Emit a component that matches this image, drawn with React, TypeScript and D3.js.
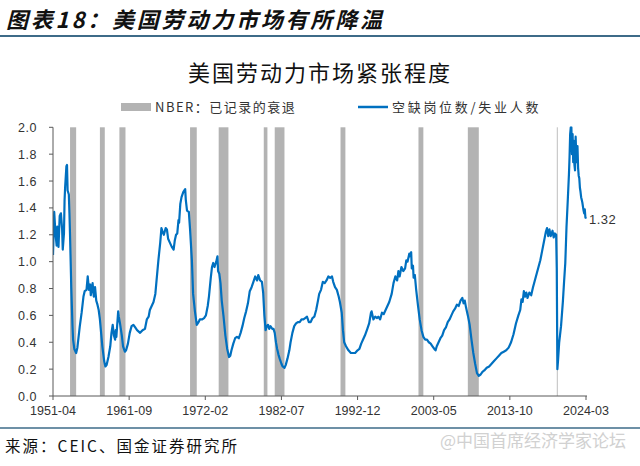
import React from "react";
import * as d3 from "d3";

const W = 640;
const H = 466;

const headerTitle = "图表18：美国劳动力市场有所降温";
const chartTitle = "美国劳动力市场紧张程度";
const legendRecession = "NBER：已记录的衰退";
const legendSeries = "空缺岗位数/失业人数";
const sourceText = "来源：CEIC、国金证券研究所";
const watermarkText = "@中国首席经济学家论坛";
const lastValueLabel = "1.32";

const xTickLabels = ["1951-04", "1961-09", "1972-02", "1982-07", "1992-12", "2003-05", "2013-10", "2024-03"];
const yTickValues = [0, 0.2, 0.4, 0.6, 0.8, 1.0, 1.2, 1.4, 1.6, 1.8, 2.0];

// NBER recession months (inclusive)
const recessionStart = ["1953-08", "1957-09", "1960-05", "1970-01", "1973-12", "1980-02", "1981-08", "1990-08", "2001-04", "2008-01", "2020-03"];
const recessionEnd = ["1954-05", "1958-04", "1961-02", "1970-11", "1975-03", "1980-07", "1982-11", "1991-03", "2001-11", "2009-06", "2020-04"];

// Job openings / unemployed
const vuSeries: [string, number][] = [
  ["1951-04", 1.05], ["1951-06", 1.37], ["1951-08", 1.21], ["1951-10", 1.12], ["1951-11", 1.26], ["1952-01", 1.11],
  ["1952-03", 1.34], ["1952-05", 1.36], ["1952-07", 1.24], ["1952-08", 1.09], ["1952-10", 1.21], ["1952-11", 1.46],
  ["1952-12", 1.56], ["1953-02", 1.71], ["1953-03", 1.72], ["1953-04", 1.53], ["1953-06", 1.5], ["1953-07", 1.36],
  ["1953-08", 1.19], ["1953-10", 0.81], ["1953-12", 0.52], ["1954-01", 0.42], ["1954-03", 0.35], ["1954-06", 0.32],
  ["1954-08", 0.36], ["1954-10", 0.44], ["1954-12", 0.52], ["1955-03", 0.62], ["1955-06", 0.74], ["1955-08", 0.78],
  ["1955-11", 0.79], ["1956-01", 0.89], ["1956-03", 0.79], ["1956-05", 0.83], ["1956-06", 0.75], ["1956-09", 0.84],
  ["1956-11", 0.74], ["1957-01", 0.81], ["1957-03", 0.71], ["1957-05", 0.68], ["1957-07", 0.64], ["1957-09", 0.57],
  ["1957-11", 0.47], ["1958-01", 0.37], ["1958-04", 0.26], ["1958-06", 0.22], ["1958-08", 0.23], ["1958-11", 0.29],
  ["1959-02", 0.37], ["1959-04", 0.47], ["1959-06", 0.53], ["1959-08", 0.45], ["1959-10", 0.42], ["1959-11", 0.49],
  ["1959-12", 0.44], ["1960-03", 0.63], ["1960-04", 0.59], ["1960-06", 0.54], ["1960-09", 0.45], ["1960-11", 0.37],
  ["1961-02", 0.33], ["1961-04", 0.34], ["1961-07", 0.39], ["1961-10", 0.47], ["1962-01", 0.52], ["1962-04", 0.53],
  ["1962-07", 0.51], ["1962-10", 0.49], ["1963-03", 0.47], ["1963-07", 0.49], ["1963-11", 0.5], ["1964-02", 0.57],
  ["1964-05", 0.59], ["1964-07", 0.64], ["1964-10", 0.67], ["1965-01", 0.7], ["1965-04", 0.76], ["1965-06", 0.86],
  ["1965-09", 1.01], ["1965-12", 1.14], ["1966-02", 1.25], ["1966-04", 1.22], ["1966-06", 1.2], ["1966-09", 1.25],
  ["1966-11", 1.24], ["1967-01", 1.17], ["1967-04", 1.14], ["1967-07", 1.11], ["1967-10", 1.09], ["1967-12", 1.16],
  ["1968-02", 1.2], ["1968-04", 1.21], ["1968-06", 1.31], ["1968-07", 1.29], ["1968-09", 1.43], ["1968-11", 1.48],
  ["1969-02", 1.52], ["1969-05", 1.54], ["1969-06", 1.46], ["1969-08", 1.38], ["1969-11", 1.37], ["1970-01", 1.24],
  ["1970-04", 1.01], ["1970-06", 0.76], ["1970-09", 0.63], ["1970-12", 0.53], ["1971-03", 0.55], ["1971-05", 0.57],
  ["1971-09", 0.57], ["1971-12", 0.58], ["1972-03", 0.6], ["1972-06", 0.67], ["1972-08", 0.74], ["1972-11", 0.88],
  ["1973-01", 0.96], ["1973-03", 0.99], ["1973-05", 0.96], ["1973-08", 1.0], ["1973-10", 1.04], ["1973-11", 0.93],
  ["1974-01", 0.91], ["1974-03", 0.84], ["1974-05", 0.71], ["1974-08", 0.59], ["1974-11", 0.45], ["1975-02", 0.35],
  ["1975-05", 0.29], ["1975-07", 0.3], ["1975-09", 0.34], ["1975-12", 0.39], ["1976-03", 0.43], ["1976-06", 0.44],
  ["1976-09", 0.43], ["1976-12", 0.47], ["1977-03", 0.52], ["1977-06", 0.58], ["1977-09", 0.63], ["1977-12", 0.69],
  ["1978-03", 0.78], ["1978-06", 0.81], ["1978-09", 0.85], ["1978-12", 0.89], ["1979-03", 0.86], ["1979-05", 0.9],
  ["1979-08", 0.86], ["1979-11", 0.85], ["1980-01", 0.77], ["1980-03", 0.6], ["1980-05", 0.49], ["1980-07", 0.52],
  ["1980-09", 0.53], ["1980-11", 0.5], ["1981-01", 0.52], ["1981-04", 0.5], ["1981-06", 0.5], ["1981-08", 0.47],
  ["1981-10", 0.4], ["1981-12", 0.35], ["1982-02", 0.31], ["1982-04", 0.28], ["1982-07", 0.24], ["1982-09", 0.22],
  ["1982-12", 0.21], ["1983-02", 0.23], ["1983-05", 0.28], ["1983-08", 0.34], ["1983-10", 0.4], ["1984-01", 0.47],
  ["1984-04", 0.52], ["1984-07", 0.54], ["1984-10", 0.55], ["1985-01", 0.55], ["1985-04", 0.57], ["1985-07", 0.57],
  ["1985-10", 0.58], ["1986-01", 0.59], ["1986-04", 0.55], ["1986-07", 0.55], ["1986-10", 0.58], ["1987-01", 0.59],
  ["1987-04", 0.64], ["1987-07", 0.71], ["1987-09", 0.76], ["1987-12", 0.79], ["1988-03", 0.85], ["1988-06", 0.84],
  ["1988-09", 0.86], ["1988-12", 0.89], ["1989-03", 0.88], ["1989-06", 0.89], ["1989-08", 0.85], ["1989-11", 0.81],
  ["1990-02", 0.79], ["1990-05", 0.74], ["1990-07", 0.7], ["1990-10", 0.62], ["1990-12", 0.49], ["1991-02", 0.4],
  ["1991-05", 0.37], ["1991-09", 0.34], ["1992-01", 0.32], ["1992-05", 0.32], ["1992-08", 0.32], ["1992-12", 0.34],
  ["1993-03", 0.35], ["1993-06", 0.39], ["1993-09", 0.42], ["1993-12", 0.45], ["1994-04", 0.5], ["1994-07", 0.54],
  ["1994-10", 0.62], ["1994-11", 0.63], ["1995-02", 0.57], ["1995-05", 0.59], ["1995-08", 0.58], ["1995-10", 0.59],
  ["1996-01", 0.57], ["1996-04", 0.62], ["1996-07", 0.61], ["1996-10", 0.64], ["1997-01", 0.67], ["1997-04", 0.7],
  ["1997-08", 0.76], ["1997-11", 0.84], ["1998-02", 0.89], ["1998-05", 0.86], ["1998-07", 0.93], ["1998-09", 0.89],
  ["1998-12", 0.96], ["1999-03", 0.93], ["1999-06", 0.95], ["1999-08", 1.01], ["1999-10", 1.0], ["2000-01", 1.06],
  ["2000-02", 1.04], ["2000-04", 1.07], ["2000-05", 0.95], ["2000-07", 0.97], ["2000-08", 0.88], ["2000-10", 0.9],
  ["2000-12", 0.8], ["2001-03", 0.68], ["2001-06", 0.57], ["2001-09", 0.49], ["2001-12", 0.44], ["2002-03", 0.42],
  ["2002-06", 0.42], ["2002-09", 0.4], ["2002-12", 0.39], ["2003-03", 0.37], ["2003-06", 0.35], ["2003-08", 0.34],
  ["2003-10", 0.37], ["2004-01", 0.4], ["2004-04", 0.43], ["2004-07", 0.45], ["2004-10", 0.49], ["2005-01", 0.51],
  ["2005-04", 0.55], ["2005-07", 0.57], ["2005-10", 0.6], ["2006-01", 0.63], ["2006-04", 0.65], ["2006-07", 0.68],
  ["2006-10", 0.67], ["2007-01", 0.71], ["2007-04", 0.73], ["2007-06", 0.69], ["2007-08", 0.71], ["2007-10", 0.66],
  ["2008-01", 0.6], ["2008-04", 0.53], ["2008-07", 0.42], ["2008-10", 0.32], ["2009-01", 0.24], ["2009-04", 0.17],
  ["2009-07", 0.15], ["2009-10", 0.16], ["2010-01", 0.18], ["2010-04", 0.19], ["2010-08", 0.21], ["2010-12", 0.22],
  ["2011-04", 0.24], ["2011-08", 0.26], ["2011-12", 0.28], ["2012-04", 0.3], ["2012-08", 0.32], ["2012-12", 0.33],
  ["2013-04", 0.34], ["2013-08", 0.36], ["2013-12", 0.4], ["2014-04", 0.46], ["2014-08", 0.54], ["2014-12", 0.6],
  ["2015-03", 0.64], ["2015-05", 0.72], ["2015-07", 0.7], ["2015-09", 0.78], ["2015-11", 0.74], ["2016-01", 0.77],
  ["2016-03", 0.73], ["2016-06", 0.77], ["2016-09", 0.75], ["2016-12", 0.81], ["2017-03", 0.86], ["2017-06", 0.91],
  ["2017-09", 0.96], ["2017-12", 1.01], ["2018-03", 1.08], ["2018-06", 1.15], ["2018-09", 1.22], ["2018-11", 1.25],
  ["2019-01", 1.19], ["2019-03", 1.24], ["2019-05", 1.19], ["2019-08", 1.23], ["2019-10", 1.18], ["2019-12", 1.21],
  ["2020-02", 1.2], ["2020-03", 0.95], ["2020-04", 0.2], ["2020-05", 0.26], ["2020-07", 0.4], ["2020-10", 0.52],
  ["2021-01", 0.7], ["2021-03", 0.85], ["2021-05", 0.99], ["2021-07", 1.26], ["2021-09", 1.45], ["2021-11", 1.65],
  ["2021-12", 1.78], ["2022-01", 1.95], ["2022-02", 2.0], ["2022-03", 2.0], ["2022-04", 1.8], ["2022-05", 1.95],
  ["2022-06", 1.74], ["2022-07", 1.9], ["2022-08", 1.72], ["2022-09", 1.68], ["2022-10", 1.93], ["2022-11", 1.78],
  ["2022-12", 1.74], ["2023-01", 1.86], ["2023-02", 1.7], ["2023-03", 1.64], ["2023-04", 1.62], ["2023-05", 1.55],
  ["2023-06", 1.52], ["2023-07", 1.48], ["2023-08", 1.46], ["2023-09", 1.44], ["2023-10", 1.41], ["2023-11", 1.38],
  ["2023-12", 1.36], ["2024-01", 1.39], ["2024-02", 1.33], ["2024-03", 1.32],
];

const CJK = "'Noto Sans CJK SC', 'Noto Sans', sans-serif";
const NUM = "'Liberation Sans', Arial, sans-serif";
const BLUE = "#0070c0";
const GREY_BAND = "#b3b3b3";
const AXIS = "#595959";
const RULE = "#3d6b88";

const monthIndex = (s: string) => {
  const [y, m] = s.split("-").map(Number);
  return (y - 1951) * 12 + (m - 4);
};

const plot = { left: 53, right: 586, top: 127.3, bottom: 396 };

export default function App() {
  const x = d3.scaleLinear().domain([0, monthIndex("2024-03")]).range([plot.left, plot.right]);
  const y = d3.scaleLinear().domain([0, 2]).range([plot.bottom, plot.top]);

  const line = d3
    .line<[string, number]>()
    .x((d) => x(monthIndex(d[0])))
    .y((d) => y(d[1]))
    .curve(d3.curveLinear);

  const last = vuSeries[vuSeries.length - 1];

  return (
    <svg
      width={W}
      height={H}
      viewBox={`0 0 ${W} ${H}`}
      style={{ position: "absolute", left: 0, top: 0, background: "#fff" }}
    >
      <rect x={0} y={0} width={W} height={H} fill="#fff" />
      <defs>
        <clipPath id="plotClip">
          <rect x={plot.left} y={plot.top - 1} width={plot.right - plot.left + 4} height={plot.bottom - plot.top + 1} />
        </clipPath>
      </defs>

      {/* header */}
      <text x={6} y={28} fontFamily={CJK} fontSize={22} fontStyle="italic" fontWeight={700} fill="#111" letterSpacing={2.8}>
        {headerTitle}
      </text>
      <line x1={0} x2={W} y1={36} y2={36} stroke={RULE} strokeWidth={2} />

      {/* chart title */}
      <text x={320} y={81} textAnchor="middle" fontFamily={CJK} fontSize={22} letterSpacing={2} fill="#111">
        {chartTitle}
      </text>

      {/* legend */}
      <rect x={121} y={103} width={30} height={8} fill={GREY_BAND} />
      <text x={155} y={112} fontFamily={CJK} fontSize={13} fill="#333" letterSpacing={1.5}>
        {legendRecession}
      </text>
      <line x1={358} x2={388} y1={107} y2={107} stroke={BLUE} strokeWidth={2.5} />
      <text x={392} y={112} fontFamily={CJK} fontSize={13} fill="#333" letterSpacing={2.7}>
        {legendSeries}
      </text>

      {/* recession bands */}
      {recessionStart.map((s, i) => {
        const x0 = x(monthIndex(s));
        const x1 = x(monthIndex(recessionEnd[i]) + 1);
        return (
          <rect
            key={s}
            x={x0}
            y={plot.top}
            width={Math.max(1, x1 - x0)}
            height={plot.bottom - plot.top}
            fill={GREY_BAND}
            opacity={x1 - x0 < 2 ? 0.7 : 1}
          />
        );
      })}

      {/* series */}
      <path d={line(vuSeries) || ""} fill="none" stroke={BLUE} strokeWidth={2.2} strokeLinejoin="round" clipPath="url(#plotClip)" />

      {/* y axis */}
      <line x1={plot.left} x2={plot.left} y1={plot.top} y2={plot.bottom} stroke={AXIS} strokeWidth={1} />
      {yTickValues.map((v) => (
        <g key={v}>
          <line x1={plot.left - 4} x2={plot.left} y1={y(v)} y2={y(v)} stroke={AXIS} strokeWidth={1} />
          <text x={37} y={y(v) + 4.5} textAnchor="end" fontFamily={NUM} fontSize={12.5} fill="#333" letterSpacing={0.5}>
            {d3.format(".1f")(v)}
          </text>
        </g>
      ))}

      {/* x axis */}
      <line x1={plot.left} x2={plot.right + 1} y1={plot.bottom} y2={plot.bottom} stroke={AXIS} strokeWidth={1} />
      {xTickLabels.map((t) => {
        const px = x(monthIndex(t));
        return (
          <g key={t}>
            <line x1={px} x2={px} y1={plot.bottom} y2={plot.bottom + 4} stroke={AXIS} strokeWidth={1} />
            <text x={px} y={plot.bottom + 19} textAnchor="middle" fontFamily={NUM} fontSize={12.5} fill="#333">
              {t}
            </text>
          </g>
        );
      })}

      {/* last value label */}
      <text x={x(monthIndex(last[0])) + 3} y={y(last[1]) + 5} fontFamily={NUM} fontSize={13} fill="#333" letterSpacing={0.5}>
        {lastValueLabel}
      </text>

      {/* footer */}
      <line x1={0} x2={W} y1={428} y2={428} stroke={RULE} strokeWidth={1.5} />
      <text x={5} y={452} fontFamily={CJK} fontSize={15.5} fill="#111" letterSpacing={2}>
        {sourceText}
      </text>
      <text x={440} y={447} fontFamily={CJK} fontSize={17} fill="#c9c9c9" opacity={0.85}>
        {watermarkText}
      </text>
    </svg>
  );
}
